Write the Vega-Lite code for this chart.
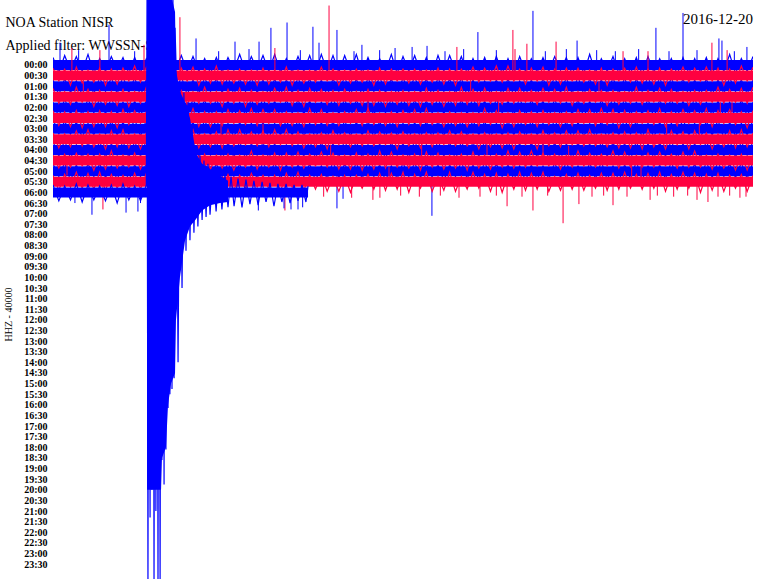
{
"$schema":"https://vega.github.io/schema/vega-lite/v6.json",
"width":700,"height":579,"autosize":"none",
"padding":{"left":53,"right":7,"top":0,"bottom":0},
"background":"white",
"config":{"view":{"stroke":null}},
"title":{"text":"2016-12-20","anchor":"end","offset":-27,"font":"Liberation Serif","fontSize":15,"fontWeight":"normal","color":"black"},
"datasets":{
"bands":[{"t":0,"t1":30,"y":0},{"t":0,"t1":30,"y":1},{"t":0,"t1":30,"y":2},{"t":0,"t1":30,"y":3},{"t":0,"t1":30,"y":4},{"t":0,"t1":30,"y":5},{"t":0,"t1":30,"y":6},{"t":0,"t1":30,"y":7},{"t":0,"t1":30,"y":8},{"t":0,"t1":30,"y":9},{"t":0,"t1":30,"y":10},{"t":0,"t1":30,"y":11},{"t":0,"t1":10.93,"y":12}],
"noise":[
{"t":0,"a":-0.7,"b":0.3,"c":1.4,"d":2.2,"e":3.5,"f":4.3,"g":5.1,"h":6.4,"i":7.2,"j":8.5,"k":9.3,"l":10.4},
{"t":0.25,"a":0.7,"b":1.5,"c":2.8,"d":3.6,"e":4.9,"f":5.7,"g":6.5,"h":7.8,"i":8.6,"j":9.7,"k":10.5,"l":11.8},
{"t":0.5,"a":-0.9,"b":0.4,"c":1.3,"d":2.5,"e":3.2,"f":4.4,"g":5.3,"h":6.5,"i":7.1,"j":8.4,"k":9.2,"l":10.3},
{"t":0.75,"a":0.5,"b":1.9,"c":2.6,"d":3.7,"e":4.6,"f":5.8,"g":6.5,"h":7.7,"i":8.8,"j":9.6,"k":10.9,"l":11.5},
{"t":1,"a":-0.8,"b":0.2,"c":1.5,"d":2.1,"e":3.4,"f":4.3,"g":5.4,"h":6.2,"i":7.5,"j":8.3,"k":9.4,"l":10.1},
{"t":1.25,"a":0.6,"b":1.7,"c":2.8,"d":3.5,"e":4.7,"f":5.9,"g":6.8,"h":7.6,"i":8.7,"j":9.5,"k":10.8,"l":11.6},
{"t":1.5,"a":-1.0,"b":0.5,"c":1.4,"d":2.3,"e":3.2,"f":4.4,"g":5.5,"h":6.1,"i":7.3,"j":8.4,"k":9.3,"l":10.2},
{"t":1.75,"a":0.8,"b":1.6,"c":2.7,"d":3.9,"e":4.5,"f":5.8,"g":6.6,"h":7.7,"i":8.6,"j":9.9,"k":10.5,"l":11.7},
{"t":2,"a":-0.6,"b":0.3,"c":1.2,"d":2.4,"e":3.2,"f":4.3,"g":5.1,"h":6.5,"i":7.2,"j":8.4,"k":9.3,"l":10.1},
{"t":2.25,"a":0.6,"b":1.9,"c":2.5,"d":3.7,"e":4.6,"f":5.8,"g":6.5,"h":7.9,"i":8.7,"j":9.8,"k":10.6,"l":11.8},
{"t":2.5,"a":-0.8,"b":0.4,"c":1.2,"d":2.5,"e":3.1,"f":4.4,"g":5.3,"h":6.2,"i":7.4,"j":8.1,"k":9.5,"l":10.3},
{"t":2.75,"a":0.5,"b":1.8,"c":2.7,"d":3.8,"e":4.6,"f":5.9,"g":6.6,"h":7.7,"i":8.5,"j":9.7,"k":10.8,"l":11.6},
{"t":3,"a":-0.7,"b":0.3,"c":1.1,"d":2.3,"e":3.5,"f":4.2,"g":5.4,"h":6.1,"i":7.2,"j":8.5,"k":9.3,"l":10.4},
{"t":3.25,"a":0.8,"b":1.5,"c":2.6,"d":3.9,"e":4.7,"f":5.6,"g":6.5,"h":7.8,"i":8.7,"j":9.6,"k":10.9,"l":11.7},
{"t":3.5,"a":-0.7,"b":0.1,"c":1.2,"d":2.5,"e":3.4,"f":4.3,"g":5.1,"h":6.5,"i":7.2,"j":8.3,"k":9.4,"l":10.2},
{"t":3.75,"a":0.7,"b":1.6,"c":2.9,"d":3.6,"e":4.8,"f":5.5,"g":6.7,"h":7.9,"i":8.6,"j":9.8,"k":10.5,"l":11.7},
{"t":4,"a":-0.6,"b":0.2,"c":1.3,"d":2.1,"e":3.3,"f":4.4,"g":5.2,"h":6.4,"i":7.1,"j":8.5,"k":9.3,"l":10.2},
{"t":4.25,"a":0.6,"b":1.7,"c":2.8,"d":3.5,"e":4.8,"f":5.9,"g":6.6,"h":7.7,"i":8.5,"j":9.8,"k":10.6,"l":11.9},
{"t":4.5,"a":-1.0,"b":0.5,"c":1.4,"d":2.3,"e":3.4,"f":4.2,"g":5.5,"h":6.1,"i":7.3,"j":8.4,"k":9.2,"l":10.3},
{"t":4.75,"a":0.7,"b":1.6,"c":2.5,"d":3.8,"e":4.9,"f":5.7,"g":6.6,"h":7.8,"i":8.6,"j":9.9,"k":10.7,"l":11.5},
{"t":5,"a":-0.7,"b":0.2,"c":1.3,"d":2.5,"e":3.1,"f":4.4,"g":5.3,"h":6.5,"i":7.2,"j":8.3,"k":9.4,"l":10.1},
{"t":5.25,"a":0.5,"b":1.9,"c":2.6,"d":3.8,"e":4.7,"f":5.8,"g":6.6,"h":7.9,"i":8.5,"j":9.7,"k":10.8,"l":11.6},
{"t":5.5,"a":-0.9,"b":0.3,"c":1.1,"d":2.4,"e":3.5,"f":4.3,"g":5.2,"h":6.4,"i":7.1,"j":8.5,"k":9.3,"l":10.2},
{"t":5.75,"a":0.6,"b":1.5,"c":2.8,"d":3.7,"e":4.9,"f":5.6,"g":6.5,"h":7.7,"i":8.8,"j":9.6,"k":10.9,"l":11.7},
{"t":6,"a":-0.8,"b":0.2,"c":1.4,"d":2.5,"e":3.2,"f":4.1,"g":5.4,"h":6.1,"i":7.3,"j":8.5,"k":9.4,"l":10.2},
{"t":6.25,"a":0.6,"b":1.9,"c":2.7,"d":3.6,"e":4.5,"f":5.8,"g":6.7,"h":7.8,"i":8.6,"j":9.9,"k":10.5,"l":11.7},
{"t":6.5,"a":-0.6,"b":0.4,"c":1.2,"d":2.1,"e":3.3,"f":4.4,"g":5.2,"h":6.5,"i":7.1,"j":8.4,"k":9.2,"l":10.3},
{"t":6.75,"a":0.8,"b":1.7,"c":2.5,"d":3.6,"e":4.9,"f":5.8,"g":6.6,"h":7.7,"i":8.5,"j":9.8,"k":10.6,"l":11.9},
{"t":7,"a":-0.7,"b":0.1,"c":1.3,"d":2.5,"e":3.2,"f":4.4,"g":5.1,"h":6.3,"i":7.2,"j":8.5,"k":9.3,"l":10.4},
{"t":7.25,"a":0.7,"b":1.8,"c":2.6,"d":3.9,"e":4.5,"f":5.7,"g":6.6,"h":7.8,"i":8.9,"j":9.7,"k":10.5,"l":11.8},
{"t":7.5,"a":-0.7,"b":0.5,"c":1.1,"d":2.3,"e":3.4,"f":4.2,"g":5.5,"h":6.1,"i":7.3,"j":8.4,"k":9.2,"l":10.3},
{"t":7.75,"a":0.5,"b":1.7,"c":2.8,"d":3.6,"e":4.9,"f":5.5,"g":6.8,"h":7.6,"i":8.7,"j":9.9,"k":10.5,"l":11.8},
{"t":8,"a":-1.0,"b":0.4,"c":1.3,"d":2.2,"e":3.5,"f":4.3,"g":5.4,"h":6.1,"i":7.2,"j":8.5,"k":9.3,"l":10.4},
{"t":8.25,"a":0.6,"b":1.8,"c":2.5,"d":3.9,"e":4.7,"f":5.6,"g":6.7,"h":7.5,"i":8.8,"j":9.6,"k":10.9,"l":11.7},
{"t":8.5,"a":-0.8,"b":0.5,"c":1.2,"d":2.4,"e":3.2,"f":4.1,"g":5.5,"h":6.3,"i":7.4,"j":8.1,"k":9.4,"l":10.2},
{"t":8.75,"a":0.5,"b":1.9,"c":2.6,"d":3.7,"e":4.8,"f":5.7,"g":6.9,"h":7.6,"i":8.5,"j":9.8,"k":10.7,"l":11.5},
{"t":9,"a":-0.9,"b":0.3,"c":1.4,"d":2.5,"e":3.1,"f":4.2,"g":5.4,"h":6.2,"i":7.3,"j":8.5,"k":9.1,"l":10.4},
{"t":9.25,"a":0.6,"b":1.8,"c":2.9,"d":3.6,"e":4.7,"f":5.5,"g":6.9,"h":7.7,"i":8.8,"j":9.6,"k":10.5,"l":11.7},
{"t":9.5,"a":-1.0,"b":0.5,"c":1.3,"d":2.2,"e":3.4,"f":4.2,"g":5.5,"h":6.1,"i":7.4,"j":8.3,"k":9.2,"l":10.4},
{"t":9.75,"a":0.7,"b":1.6,"c":2.8,"d":3.5,"e":4.9,"f":5.7,"g":6.6,"h":7.5,"i":8.8,"j":9.9,"k":10.7,"l":11.9},
{"t":10,"a":-0.6,"b":0.2,"c":1.4,"d":2.1,"e":3.3,"f":4.4,"g":5.2,"h":6.1,"i":7.5,"j":8.3,"k":9.4,"l":10.2},
{"t":10.25,"a":0.7,"b":1.9,"c":2.6,"d":3.8,"e":4.5,"f":5.7,"g":6.6,"h":7.6,"i":8.7,"j":9.6,"k":10.8,"l":11.5},
{"t":10.5,"a":-0.8,"b":0.5,"c":1.2,"d":2.4,"e":3.3,"f":4.5,"g":5.2,"h":6.3,"i":7.5,"j":8.2,"k":9.4,"l":10.1},
{"t":10.75,"a":0.6,"b":1.7,"c":2.5,"d":3.9,"e":4.6,"f":5.8,"g":6.7,"h":7.8,"i":8.6,"j":9.7,"k":10.5,"l":11.8},
{"t":11,"a":-0.9,"b":0.5,"c":1.3,"d":2.2,"e":3.4,"f":4.1,"g":5.5,"h":6.5,"i":7.1,"j":8.4,"k":9.3,"l":10.4},
{"t":11.25,"a":0.7,"b":1.6,"c":2.8,"d":3.5,"e":4.7,"f":5.6,"g":6.9,"h":7.7,"i":8.8,"j":9.5,"k":10.9,"l":11.7},
{"t":11.5,"a":-1.0,"b":0.2,"c":1.4,"d":2.3,"e":3.5,"f":4.2,"g":5.4,"h":6.4,"i":7.3,"j":8.2,"k":9.5,"l":10.3},
{"t":11.75,"a":0.6,"b":1.5,"c":2.9,"d":3.7,"e":4.6,"f":5.7,"g":6.8,"h":7.9,"i":8.5,"j":9.6,"k":10.7,"l":11.9},
{"t":12,"a":-0.9,"b":0.4,"c":1.3,"d":2.4,"e":3.1,"f":4.5,"g":5.3,"h":6.2,"i":7.4,"j":8.3,"k":9.1,"l":10.5},
{"t":12.25,"a":0.7,"b":1.9,"c":2.5,"d":3.8,"e":4.6,"f":5.7,"g":6.9,"h":7.5,"i":8.7,"j":9.8,"k":10.6,"l":11.9},
{"t":12.5,"a":-0.9,"b":0.5,"c":1.1,"d":2.3,"e":3.2,"f":4.4,"g":5.2,"h":6.4,"i":7.1,"j":8.5,"k":9.3,"l":10.4},
{"t":12.75,"a":0.6,"b":1.7,"c":2.8,"d":3.6,"e":4.9,"f":5.5,"g":6.7,"h":7.7,"i":8.6,"j":9.8,"k":10.5,"l":12.0},
{"t":13,"a":-1.0,"b":0.4,"c":1.3,"d":2.5,"e":3.3,"f":4.2,"g":5.4,"h":6.5,"i":7.2,"j":8.3,"k":9.2,"l":10.4},
{"t":13.25,"a":0.8,"b":1.6,"c":2.9,"d":3.8,"e":4.5,"f":5.7,"g":6.6,"h":7.6,"i":8.7,"j":9.9,"k":10.7,"l":11.6},
{"t":13.5,"a":-0.7,"b":0.5,"c":1.2,"d":2.3,"e":3.4,"f":4.1,"g":5.3,"h":6.2,"i":7.5,"j":8.4,"k":9.1,"l":10.3},
{"t":13.75,"a":0.7,"b":1.9,"c":2.5,"d":3.8,"e":4.7,"f":5.6,"g":6.8,"h":7.6,"i":8.9,"j":9.8,"k":10.5,"l":11.7},
{"t":14,"a":-0.6,"b":0.3,"c":1.1,"d":2.4,"e":3.2,"f":4.5,"g":5.3,"h":6.3,"i":7.4,"j":8.1,"k":9.4,"l":10.2},
{"t":14.25,"a":0.6,"b":1.8,"c":2.6,"d":3.9,"e":4.5,"f":5.7,"g":6.8,"h":7.5,"i":8.8,"j":9.7,"k":10.9,"l":11.8},
{"t":14.5,"a":-1.0,"b":0.4,"c":1.3,"d":2.5,"e":3.2,"f":4.4,"g":5.1,"h":6.4,"i":7.3,"j":8.2,"k":9.5,"l":10.2},
{"t":14.75,"a":0.8,"b":1.5,"c":2.9,"d":3.7,"e":4.6,"f":5.8,"g":6.7,"h":7.9,"i":8.5,"j":9.6,"k":10.7,"l":11.7},
{"t":15,"a":-0.8,"b":0.4,"c":1.2,"d":2.4,"e":3.1,"f":4.3,"g":5.5,"h":6.3,"i":7.4,"j":8.5,"k":9.2,"l":10.1},
{"t":15.25,"a":0.6,"b":1.7,"c":2.5,"d":3.8,"e":4.7,"f":5.6,"g":6.9,"h":7.6,"i":8.8,"j":9.7,"k":10.5,"l":12.0},
{"t":15.5,"a":-0.9,"b":0.4,"c":1.1,"d":2.5,"e":3.3,"f":4.2,"g":5.4,"h":6.5,"i":7.1,"j":8.4,"k":9.2,"l":10.3},
{"t":15.75,"a":0.7,"b":1.8,"c":2.6,"d":3.9,"e":4.5,"f":5.7,"g":6.8,"h":7.8,"i":8.7,"j":9.9,"k":10.6,"l":11.6},
{"t":16,"a":-0.7,"b":0.5,"c":1.3,"d":2.2,"e":3.4,"f":4.1,"g":5.3,"h":6.4,"i":7.5,"j":8.2,"k":9.3,"l":10.1},
{"t":16.25,"a":0.9,"b":1.6,"c":2.9,"d":3.7,"e":4.5,"f":5.6,"g":6.8,"h":7.7,"i":8.8,"j":9.6,"k":10.5,"l":11.9},
{"t":16.5,"a":-0.9,"b":0.3,"c":1.2,"d":2.4,"e":3.1,"f":4.5,"g":5.3,"h":6.4,"i":7.1,"j":8.3,"k":9.4,"l":10.5},
{"t":16.75,"a":0.6,"b":1.8,"c":2.5,"d":3.9,"e":4.6,"f":5.8,"g":6.7,"h":7.5,"i":8.6,"j":9.8,"k":10.9,"l":11.8},
{"t":17,"a":-0.9,"b":0.4,"c":1.3,"d":2.5,"e":3.2,"f":4.4,"g":5.1,"h":6.2,"i":7.3,"j":8.5,"k":9.4,"l":10.1},
{"t":17.25,"a":0.6,"b":1.9,"c":2.7,"d":3.8,"e":4.5,"f":5.7,"g":6.6,"h":7.6,"i":8.9,"j":9.7,"k":10.5,"l":11.9},
{"t":17.5,"a":-0.8,"b":0.4,"c":1.2,"d":2.1,"e":3.3,"f":4.5,"g":5.2,"h":6.3,"i":7.2,"j":8.4,"k":9.1,"l":10.5},
{"t":17.75,"a":0.8,"b":1.5,"c":2.9,"d":3.7,"e":4.6,"f":5.8,"g":6.7,"h":7.6,"i":8.5,"j":9.9,"k":10.7,"l":11.7},
{"t":18,"a":-0.6,"b":0.2,"c":1.4,"d":2.3,"e":3.1,"f":4.5,"g":5.2,"h":6.5,"i":7.3,"j":8.2,"k":9.4,"l":10.1},
{"t":18.25,"a":0.7,"b":1.6,"c":2.9,"d":3.8,"e":4.5,"f":5.7,"g":6.6,"h":7.9,"i":8.6,"j":9.7,"k":10.8,"l":11.6},
{"t":18.5,"a":-0.7,"b":0.3,"c":1.5,"d":2.2,"e":3.4,"f":4.1,"g":5.3,"h":6.4,"i":7.2,"j":8.5,"k":9.1,"l":10.3},
{"t":18.75,"a":0.9,"b":1.5,"c":2.7,"d":3.6,"e":4.9,"f":5.6,"g":6.8,"h":7.7,"i":8.5,"j":9.8,"k":10.6,"l":11.9},
{"t":19,"a":-0.8,"b":0.1,"c":1.4,"d":2.5,"e":3.2,"f":4.3,"g":5.5,"h":6.5,"i":7.1,"j":8.4,"k":9.3,"l":10.2},
{"t":19.25,"a":0.8,"b":1.6,"c":2.8,"d":3.7,"e":4.5,"f":5.9,"g":6.6,"h":7.8,"i":8.7,"j":9.6,"k":10.5,"l":12.0},
{"t":19.5,"a":-0.6,"b":0.1,"c":1.3,"d":2.2,"e":3.4,"f":4.5,"g":5.3,"h":6.4,"i":7.2,"j":8.1,"k":9.4,"l":10.3},
{"t":19.75,"a":0.8,"b":1.5,"c":2.9,"d":3.6,"e":4.7,"f":5.8,"g":6.6,"h":7.9,"i":8.5,"j":9.7,"k":10.8,"l":11.7},
{"t":20,"a":-0.8,"b":0.4,"c":1.5,"d":2.2,"e":3.1,"f":4.3,"g":5.1,"h":6.3,"i":7.4,"j":8.2,"k":9.5,"l":10.1},
{"t":20.25,"a":0.6,"b":1.8,"c":2.9,"d":3.5,"e":4.7,"f":5.6,"g":6.8,"h":7.5,"i":8.8,"j":9.6,"k":10.9,"l":11.8},
{"t":20.5,"a":-0.6,"b":0.3,"c":1.4,"d":2.4,"e":3.3,"f":4.4,"g":5.2,"h":6.5,"i":7.3,"j":8.1,"k":9.4,"l":10.2},
{"t":20.75,"a":0.7,"b":1.5,"c":2.8,"d":3.7,"e":4.5,"f":5.8,"g":6.6,"h":7.9,"i":8.7,"j":9.5,"k":10.8,"l":11.7},
{"t":21,"a":-0.7,"b":0.2,"c":1.3,"d":2.2,"e":3.4,"f":4.3,"g":5.5,"h":6.2,"i":7.4,"j":8.3,"k":9.5,"l":10.1},
{"t":21.25,"a":0.6,"b":1.9,"c":2.5,"d":3.5,"e":4.9,"f":5.6,"g":6.7,"h":7.6,"i":8.8,"j":9.5,"k":10.7,"l":11.9},
{"t":21.5,"a":-0.8,"b":0.4,"c":1.1,"d":2.3,"e":3.2,"f":4.5,"g":5.1,"h":6.4,"i":7.3,"j":8.4,"k":9.2,"l":10.5},
{"t":21.75,"a":0.5,"b":1.8,"c":2.6,"d":3.6,"e":4.7,"f":5.8,"g":6.5,"h":7.7,"i":8.9,"j":9.8,"k":10.6,"l":11.8},
{"t":22,"a":-0.7,"b":0.3,"c":1.2,"d":2.1,"e":3.5,"f":4.4,"g":5.3,"h":6.2,"i":7.4,"j":8.5,"k":9.1,"l":10.3},
{"t":22.25,"a":0.9,"b":1.5,"c":2.7,"d":3.8,"e":4.6,"f":5.7,"g":6.9,"h":7.5,"i":8.8,"j":9.6,"k":10.7,"l":11.7},
{"t":22.5,"a":-0.7,"b":0.3,"c":1.1,"d":2.5,"e":3.3,"f":4.2,"g":5.4,"h":6.2,"i":7.3,"j":8.1,"k":9.5,"l":10.2},
{"t":22.75,"a":0.8,"b":1.6,"c":2.8,"d":3.6,"e":4.9,"f":5.5,"g":6.7,"h":7.6,"i":8.8,"j":9.5,"k":10.9,"l":11.8},
{"t":23,"a":-1.0,"b":0.5,"c":1.3,"d":2.3,"e":3.4,"f":4.2,"g":5.5,"h":6.1,"i":7.4,"j":8.3,"k":9.2,"l":10.4},
{"t":23.25,"a":0.7,"b":1.8,"c":2.6,"d":3.5,"e":4.8,"f":5.7,"g":6.8,"h":7.6,"i":8.9,"j":9.6,"k":10.7,"l":11.6},
{"t":23.5,"a":-0.6,"b":0.3,"c":1.4,"d":2.4,"e":3.3,"f":4.1,"g":5.3,"h":6.5,"i":7.2,"j":8.4,"k":9.1,"l":10.2},
{"t":23.75,"a":0.6,"b":1.9,"c":2.7,"d":3.8,"e":4.5,"f":5.6,"g":6.9,"h":7.7,"i":8.6,"j":9.5,"k":10.8,"l":11.8},
{"t":24,"a":-0.8,"b":0.4,"c":1.2,"d":2.4,"e":3.1,"f":4.2,"g":5.5,"h":6.4,"i":7.3,"j":8.1,"k":9.5,"l":10.2},
{"t":24.25,"a":0.8,"b":1.5,"c":2.7,"d":3.7,"e":4.6,"f":5.9,"g":6.6,"h":7.8,"i":8.5,"j":9.7,"k":10.9,"l":11.7},
{"t":24.5,"a":-0.6,"b":0.3,"c":1.2,"d":2.5,"e":3.2,"f":4.3,"g":5.1,"h":6.3,"i":7.4,"j":8.2,"k":9.4,"l":10.1},
{"t":24.75,"a":0.8,"b":1.6,"c":2.9,"d":3.6,"e":4.7,"f":5.8,"g":6.5,"h":7.8,"i":8.9,"j":9.6,"k":10.7,"l":11.6},
{"t":25,"a":-0.7,"b":0.2,"c":1.3,"d":2.1,"e":3.5,"f":4.4,"g":5.3,"h":6.4,"i":7.2,"j":8.5,"k":9.1,"l":10.3},
{"t":25.25,"a":0.9,"b":1.7,"c":2.5,"d":3.7,"e":4.6,"f":5.5,"g":6.8,"h":7.9,"i":8.7,"j":9.6,"k":10.8,"l":11.7},
{"t":25.5,"a":-0.8,"b":0.4,"c":1.1,"d":2.4,"e":3.2,"f":4.3,"g":5.5,"h":6.1,"i":7.4,"j":8.3,"k":9.5,"l":10.2},
{"t":25.75,"a":0.7,"b":1.8,"c":2.6,"d":3.5,"e":4.9,"f":5.6,"g":6.8,"h":7.7,"i":8.8,"j":9.6,"k":10.9,"l":11.6},
{"t":26,"a":-0.6,"b":0.3,"c":1.2,"d":2.2,"e":3.3,"f":4.1,"g":5.4,"h":6.5,"i":7.3,"j":8.2,"k":9.4,"l":10.1},
{"t":26.25,"a":0.6,"b":1.9,"c":2.7,"d":3.6,"e":4.5,"f":5.8,"g":6.7,"h":7.9,"i":8.6,"j":9.5,"k":10.7,"l":11.9},
{"t":26.5,"a":-0.6,"b":0.4,"c":1.2,"d":2.3,"e":3.2,"f":4.4,"g":5.5,"h":6.2,"i":7.1,"j":8.4,"k":9.1,"l":10.3},
{"t":26.75,"a":0.9,"b":1.5,"c":2.7,"d":3.6,"e":4.9,"f":5.7,"g":6.6,"h":7.5,"i":8.8,"j":9.7,"k":10.8,"l":11.7},
{"t":27,"a":-0.7,"b":0.2,"c":1.3,"d":2.5,"e":3.4,"f":4.2,"g":5.1,"h":6.3,"i":7.4,"j":8.2,"k":9.5,"l":10.1},
{"t":27.25,"a":0.8,"b":1.6,"c":2.9,"d":3.8,"e":4.7,"f":5.5,"g":6.6,"h":7.9,"i":8.8,"j":9.6,"k":10.7,"l":11.6},
{"t":27.5,"a":-0.6,"b":0.3,"c":1.4,"d":2.4,"e":3.1,"f":4.3,"g":5.5,"h":6.2,"i":7.4,"j":8.1,"k":9.3,"l":10.2},
{"t":27.75,"a":0.7,"b":1.5,"c":2.8,"d":3.7,"e":4.8,"f":5.6,"g":6.9,"h":7.5,"i":8.7,"j":9.6,"k":10.8,"l":12.0},
{"t":28,"a":-0.7,"b":0.2,"c":1.3,"d":2.4,"e":3.5,"f":4.1,"g":5.3,"h":6.4,"i":7.2,"j":8.5,"k":9.1,"l":10.3},
{"t":28.25,"a":0.9,"b":1.5,"c":2.8,"d":3.5,"e":4.7,"f":5.8,"g":6.6,"h":7.9,"i":8.5,"j":9.8,"k":10.6,"l":11.8},
{"t":28.5,"a":-0.6,"b":0.3,"c":1.4,"d":2.1,"e":3.4,"f":4.3,"g":5.2,"h":6.5,"i":7.3,"j":8.4,"k":9.1,"l":10.2},
{"t":28.75,"a":0.6,"b":1.9,"c":2.7,"d":3.6,"e":4.8,"f":5.5,"g":6.9,"h":7.7,"i":8.6,"j":9.7,"k":10.5,"l":11.9},
{"t":29,"a":-1.0,"b":0.4,"c":1.2,"d":2.3,"e":3.5,"f":4.2,"g":5.4,"h":6.2,"i":7.1,"j":8.5,"k":9.3,"l":10.4},
{"t":29.25,"a":0.8,"b":1.7,"c":2.5,"d":3.5,"e":4.9,"f":5.6,"g":6.7,"h":7.8,"i":8.7,"j":9.9,"k":10.6,"l":11.6},
{"t":29.5,"a":-0.6,"b":0.1,"c":1.4,"d":2.2,"e":3.3,"f":4.4,"g":5.5,"h":6.1,"i":7.2,"j":8.4,"k":9.2,"l":10.3},
{"t":29.75,"a":0.6,"b":1.5,"c":2.7,"d":3.6,"e":4.8,"f":5.9,"g":6.6,"h":7.7,"i":8.5,"j":9.9,"k":10.7,"l":11.9},
{"t":30,"a":-0.8,"b":0.2,"c":1.4,"d":2.1,"e":3.5,"f":4.3,"g":5.2,"h":6.4,"i":7.2,"j":8.5,"k":9.1,"l":10.4}
],
"qenv":[
{"t":4.03,"y":-6.6,"y2":40},{"t":4.63,"y":-6.6,"y2":40},{"t":4.67,"y":-6.6,"y2":37},{"t":4.84,"y":-6.6,"y2":36},{"t":4.93,"y":-6.6,"y2":32},{"t":5.06,"y":-6.6,"y2":30},{"t":5.23,"y":-5,"y2":29},{"t":5.27,"y":0.5,"y2":24},{"t":5.44,"y":2.5,"y2":20},{"t":5.66,"y":3.5,"y2":16.5},{"t":5.87,"y":5,"y2":15.2},{"t":6.13,"y":8.3,"y2":14.5},{"t":6.39,"y":9.3,"y2":13.7},{"t":6.73,"y":9.8,"y2":13.2},{"t":7.16,"y":10.4,"y2":13.0},{"t":7.5,"y":10.9,"y2":12.9}
],
"quake":[
{"t":0,"y":11.3},{"t":0.25,"y":12.8},{"t":0.5,"y":11.4},{"t":0.75,"y":12.7},{"t":1,"y":11.2},{"t":1.25,"y":12.9},{"t":1.5,"y":11.3},{"t":1.75,"y":12.7},{"t":2,"y":11.4},{"t":2.25,"y":12.8},{"t":2.5,"y":11.3},{"t":2.75,"y":13.0},{"t":3,"y":11.2},{"t":3.25,"y":12.7},{"t":3.5,"y":11.4},{"t":3.75,"y":12.8},{"t":4,"y":11.3},
{"t":4.03,"y":-6.6},{"t":4.07,"y":49},{"t":4.11,"y":-6.6},{"t":4.16,"y":42.6},{"t":4.2,"y":-6.6},{"t":4.24,"y":40},{"t":4.29,"y":-6.6},{"t":4.33,"y":49},{"t":4.37,"y":-6.6},{"t":4.41,"y":42},{"t":4.46,"y":-6.6},{"t":4.5,"y":49},{"t":4.54,"y":-6.6},{"t":4.59,"y":49},{"t":4.63,"y":-6.6},{"t":4.67,"y":37.2},{"t":4.71,"y":-6.6},{"t":4.76,"y":39.5},{"t":4.8,"y":-6.6},{"t":4.84,"y":36.2},{"t":4.89,"y":-6.6},{"t":4.93,"y":32.3},{"t":4.97,"y":-5.5},{"t":5.01,"y":31},{"t":5.06,"y":-4.5},{"t":5.1,"y":30.5},{"t":5.14,"y":-6.6},{"t":5.19,"y":29.5},{"t":5.23,"y":-3.5},
{"t":5.27,"y":-0.3},{"t":5.36,"y":28},{"t":5.44,"y":1.8},{"t":5.53,"y":21},{"t":5.61,"y":2.6},{"t":5.7,"y":17.5},{"t":5.79,"y":3.5},{"t":5.87,"y":16.5},{"t":5.96,"y":5.5},{"t":6.04,"y":15.8},{"t":6.13,"y":7.8},{"t":6.21,"y":15.2},{"t":6.3,"y":8.5},{"t":6.39,"y":14.6},{"t":6.47,"y":9.0},{"t":6.56,"y":14.3},{"t":6.64,"y":9.3},{"t":6.73,"y":14.1},{"t":6.86,"y":9.6},{"t":6.99,"y":13.8},{"t":7.11,"y":10.0},{"t":7.24,"y":13.6},{"t":7.37,"y":10.3},{"t":7.5,"y":13.4},{"t":7.63,"y":10.5},{"t":7.76,"y":13.3},{"t":7.93,"y":10.7},{"t":8.1,"y":13.4},{"t":8.27,"y":10.8},{"t":8.44,"y":13.1},{"t":8.61,"y":10.9},{"t":8.79,"y":13.2},{"t":8.96,"y":11.0},{"t":9.13,"y":12.9},{"t":9.3,"y":11.1},{"t":9.47,"y":13.3},{"t":9.64,"y":11.2},{"t":9.81,"y":12.9},{"t":9.99,"y":11.2},{"t":10.16,"y":13.0},{"t":10.33,"y":11.3},{"t":10.5,"y":12.8},{"t":10.67,"y":11.3},{"t":10.84,"y":12.9},{"t":10.93,"y":11.4}
],
"spikes":[
{"t":0.3,"y":0,"tip":-2.1},{"t":1.1,"y":0,"tip":-1.4},{"t":2.4,"y":0,"tip":-3.8},{"t":3.5,"y":0,"tip":-1.3},{"t":6.13,"y":0,"tip":-2.5},{"t":7.1,"y":0,"tip":-1.3},{"t":7.8,"y":0,"tip":-2.2},{"t":8.4,"y":0,"tip":-1.5},{"t":8.83,"y":0,"tip":-2.2},{"t":9.34,"y":0,"tip":-3.5},{"t":10.03,"y":0,"tip":-4.0},{"t":10.6,"y":0,"tip":-1.4},{"t":11.14,"y":0,"tip":-3.6},{"t":11.4,"y":0,"tip":-2.1},{"t":12.17,"y":0,"tip":-3.3},{"t":12.9,"y":0,"tip":-1.3},{"t":13.24,"y":0,"tip":-1.9},{"t":14.0,"y":0,"tip":-1.4},{"t":14.66,"y":0,"tip":-1.6},{"t":15.39,"y":0,"tip":-1.7},{"t":16.03,"y":0,"tip":-1.8},{"t":16.8,"y":0,"tip":-1.3},{"t":17.6,"y":0,"tip":-1.5},{"t":18.21,"y":0,"tip":-3.1},{"t":19.0,"y":0,"tip":-1.4},{"t":20.57,"y":0,"tip":-5.1},{"t":21.1,"y":0,"tip":-1.3},{"t":22.0,"y":0,"tip":-1.5},{"t":22.46,"y":0,"tip":-2.3},{"t":23.3,"y":0,"tip":-1.4},{"t":24.1,"y":0,"tip":-1.3},{"t":25.1,"y":0,"tip":-1.5},{"t":25.84,"y":0,"tip":-3.5},{"t":26.4,"y":0,"tip":-1.3},{"t":27.0,"y":0,"tip":-4.9},{"t":27.6,"y":0,"tip":-1.4},{"t":28.54,"y":0,"tip":-2.5},{"t":28.67,"y":0,"tip":-2.3},{"t":29.2,"y":0,"tip":-1.3},{"t":29.74,"y":0,"tip":-1.7},
{"t":12.17,"y":10,"tip":13.5},{"t":12.43,"y":10,"tip":12.6},{"t":16.24,"y":10,"tip":14.2},
{"t":0.81,"y":1,"tip":-1.6},{"t":2.01,"y":1,"tip":-1.4},{"t":3.9,"y":1,"tip":-1.9},{"t":5.44,"y":1,"tip":-4.5},{"t":9.51,"y":1,"tip":-1.6},{"t":11.83,"y":1,"tip":-5.6},{"t":17.31,"y":1,"tip":-1.7},{"t":19.71,"y":1,"tip":-3.3},{"t":19.8,"y":1,"tip":-1.5},{"t":20.31,"y":1,"tip":-2.0},{"t":21.56,"y":1,"tip":-2.2},{"t":24.43,"y":1,"tip":-1.3},{"t":25.5,"y":1,"tip":-1.3},{"t":28.24,"y":1,"tip":-2.1},{"t":28.89,"y":1,"tip":-1.4},
{"t":1.3,"y":3,"tip":1.6},{"t":7.2,"y":5,"tip":6.9},{"t":9.0,"y":7,"tip":5.5},{"t":13.5,"y":3,"tip":4.6},{"t":15.8,"y":9,"tip":7.4},{"t":17.9,"y":1,"tip":2.7},{"t":19.1,"y":5,"tip":3.4},{"t":21.0,"y":7,"tip":8.6},{"t":23.4,"y":3,"tip":1.5},{"t":24.8,"y":9,"tip":10.5},{"t":26.3,"y":5,"tip":6.6},{"t":27.7,"y":7,"tip":5.4},{"t":29.1,"y":3,"tip":4.5},{"t":0.6,"y":9,"tip":10.4},{"t":11.9,"y":9,"tip":7.5},{"t":14.4,"y":11,"tip":9.6},{"t":18.6,"y":7,"tip":8.5},{"t":22.1,"y":9,"tip":7.6},{"t":25.2,"y":11,"tip":9.5},{"t":28.6,"y":5,"tip":3.5},
{"t":2.14,"y":11,"tip":13.6},{"t":9.94,"y":11,"tip":13.7},{"t":11.6,"y":11,"tip":12.4},{"t":12.8,"y":11,"tip":12.5},{"t":13.71,"y":11,"tip":12.7},{"t":14.01,"y":11,"tip":12.5},{"t":14.9,"y":11,"tip":12.3},{"t":15.7,"y":11,"tip":12.4},{"t":16.6,"y":11,"tip":12.3},{"t":17.4,"y":11,"tip":12.5},{"t":18.3,"y":11,"tip":12.4},{"t":19.0,"y":11,"tip":12.3},{"t":19.46,"y":11,"tip":13.3},{"t":20.1,"y":11,"tip":12.4},{"t":20.57,"y":11,"tip":13.7},{"t":21.2,"y":11,"tip":12.3},{"t":21.86,"y":11,"tip":14.9},{"t":22.54,"y":11,"tip":13.1},{"t":23.1,"y":11,"tip":12.4},{"t":23.6,"y":11,"tip":12.3},{"t":24.0,"y":11,"tip":13.2},{"t":24.6,"y":11,"tip":12.4},{"t":25.59,"y":11,"tip":12.7},{"t":25.9,"y":11,"tip":12.3},{"t":26.6,"y":11,"tip":12.4},{"t":27.2,"y":11,"tip":12.3},{"t":27.6,"y":11,"tip":12.7},{"t":28.07,"y":11,"tip":12.9},{"t":28.5,"y":11,"tip":12.4},{"t":29.0,"y":11,"tip":12.3},{"t":29.44,"y":11,"tip":12.5},{"t":29.7,"y":11,"tip":12.4},
{"t":0.94,"y":12,"tip":13.0},{"t":1.67,"y":12,"tip":14.1},{"t":3.13,"y":12,"tip":13.9},{"t":3.64,"y":12,"tip":13.8},{"t":3.75,"y":12,"tip":13.0},{"t":8.8,"y":12,"tip":13.7},{"t":9.9,"y":12,"tip":13.5},{"t":10.2,"y":12,"tip":13.6},{"t":10.5,"y":12,"tip":13.6},{"t":10.7,"y":12,"tip":13.4}
]
},
"encoding":{
"x":{"field":"t","type":"quantitative","scale":{"domain":[0,30],"nice":false,"zero":false},
 "axis":{"orient":"top","labels":false,"ticks":false,"domain":false,"grid":false,"zindex":0,
  "title":["NOA Station NISR","Applied filter: WWSSN-SP"],"titleX":-48,"titleY":26,"titleAlign":"left","titleAnchor":"start","titleBaseline":"alphabetic","titleLineHeight":23,"titleFont":"Liberation Serif","titleFontSize":14,"titleFontWeight":"normal","titleColor":"black","titlePadding":0}},
"y":{"field":"y","type":"quantitative","scale":{"domain":[-6.12,48.4],"reverse":true,"nice":false,"zero":false},
 "axis":{"values":[0,1,2,3,4,5,6,7,8,9,10,11,12,13,14,15,16,17,18,19,20,21,22,23,24,25,26,27,28,29,30,31,32,33,34,35,36,37,38,39,40,41,42,43,44,45,46,47],
  "labelExpr":"(floor(datum.value/2) < 10 ? '0' : '') + floor(datum.value/2) + (datum.value % 2 ? ':30' : ':00')",
  "labelFont":"Liberation Serif","labelFontSize":10,"labelFontWeight":"bold","labelColor":"black","labelPadding":6,"labelOverlap":false,"labelFlush":false,"labelBound":false,
  "ticks":false,"domain":false,"grid":false,"zindex":0,
  "title":"HHZ - 40000","titleX":-45,"titleY":314,"titleAngle":270,"titleAlign":"center","titleBaseline":"middle","titleFont":"Liberation Serif","titleFontSize":10,"titleFontWeight":"normal","titleColor":"black"}}
},
"layer":[
{"data":{"name":"bands"},"transform":[{"filter":{"field":"y","oneOf":[0,2,4,6,8,10]}}],"mark":{"type":"rule","color":"#0000ff","strokeWidth":10,"clip":true},"encoding":{"x2":{"field":"t1"}}},
{"data":{"name":"noise"},"transform":[{"fold":["a","b","c","d","e","f","g","h","i","j","k","l"],"as":["row","y"]},{"filter":{"field":"row","oneOf":["a","c","e","g","i","k"]}}],"mark":{"type":"line","color":"#0000ff","strokeWidth":1.2,"clip":true},"encoding":{"detail":{"field":"row"}}},
{"data":{"name":"spikes"},"transform":[{"filter":{"field":"y","oneOf":[0,2,4,6,8,10]}}],"mark":{"type":"rule","color":"#0000ff","strokeWidth":1,"clip":true},"encoding":{"y2":{"field":"tip"}}},
{"data":{"name":"bands"},"transform":[{"filter":{"field":"y","oneOf":[1,3,5,7,9,11]}}],"mark":{"type":"rule","color":"#ff0040","strokeWidth":10,"clip":true},"encoding":{"x2":{"field":"t1"}}},
{"data":{"name":"noise"},"transform":[{"fold":["a","b","c","d","e","f","g","h","i","j","k","l"],"as":["row","y"]},{"filter":{"field":"row","oneOf":["b","d","f","h","j","l"]}}],"mark":{"type":"line","color":"#ff0040","strokeWidth":1.2,"clip":true},"encoding":{"detail":{"field":"row"}}},
{"data":{"name":"spikes"},"transform":[{"filter":{"field":"y","oneOf":[1,3,5,7,9,11]}}],"mark":{"type":"rule","color":"#ff0040","strokeWidth":1,"clip":true},"encoding":{"y2":{"field":"tip"}}},
{"data":{"name":"bands"},"transform":[{"filter":{"field":"y","equal":12}}],"mark":{"type":"rule","color":"#0000ff","strokeWidth":10,"clip":true},"encoding":{"x2":{"field":"t1"}}},
{"data":{"name":"qenv"},"mark":{"type":"area","color":"#0000ff","opacity":1,"clip":true},"encoding":{"y2":{"field":"y2"}}},
{"data":{"name":"quake"},"mark":{"type":"line","color":"#0000ff","strokeWidth":1.2,"clip":true},"encoding":{}},
{"data":{"name":"spikes"},"transform":[{"filter":{"field":"y","equal":12}}],"mark":{"type":"rule","color":"#0000ff","strokeWidth":1,"clip":true},"encoding":{"y2":{"field":"tip"}}}
]
}
